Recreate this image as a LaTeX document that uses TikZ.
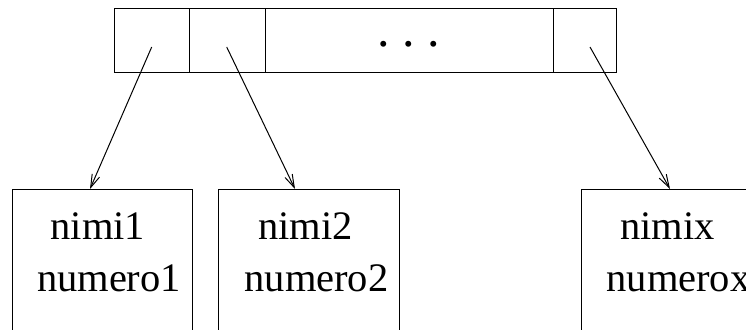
\documentclass[tikz,border=0pt]{standalone}
\usepackage{fontspec}
\setmainfont{Liberation Serif}
\usetikzlibrary{arrows.meta}
\begin{document}
\begin{tikzpicture}[x=1pt,y=-1pt,line width=1pt,
  cell/.style={draw,rectangle,inner sep=0pt,minimum height=64pt,anchor=north west},
  rec/.style={draw,rectangle,inner sep=0pt,minimum height=240pt,anchor=north west},
  lbl/.style={anchor=base west,inner sep=0pt,font=\fontsize{40.5}{44}\selectfont},
  ptr/.style={-{Straight Barb[length=13pt,width=8pt,line width=1pt]}}]
\useasboundingbox (0,0) rectangle (746,329);
\clip (0,0) rectangle (746,329);
% top array
\node[cell,minimum width=75.3pt] (c1) at (114,8) {};
\node[cell,minimum width=75.4pt] (c2) at (189.3,8) {};
\node[cell,minimum width=288pt] (c3) at (264.7,8) {};
\node[cell,minimum width=63pt] (c4) at (552.7,8) {};
\node[anchor=base,inner sep=0pt,font=\fontsize{50}{54}\selectfont] (dots) at (408.7,47) {.\hspace{12.5pt}.\hspace{12.5pt}.};
% records
\node[rec,minimum width=180.6pt] (r1) at (11.7,189) {};
\node[rec,minimum width=181pt] (r2) at (218.3,189) {};
\node[rec,minimum width=220pt] (r3) at (580.7,189) {};
\node[lbl] (n1) at (50,239) {nimi1};
\node[lbl] (m1) at (36.5,291.7) {numero1};
\node[lbl] (n2) at (257.5,239) {nimi2};
\node[lbl] (m2) at (244,291.7) {numero2};
\node[lbl] (n3) at (619.5,239) {nimix};
\node[lbl] (m3) at (606,291.7) {numerox};
% pointers
\coordinate (s1) at (151.7,47);
\coordinate (s2) at (226.7,47);
\coordinate (s3) at (590,47);
\coordinate (t1) at (90,189);
\coordinate (t2) at (295,189);
\coordinate (t3) at (670,189);
\draw[ptr] (s1) -- (t1);
\draw[ptr] (s2) -- (t2);
\draw[ptr] (s3) -- (t3);
\end{tikzpicture}
\end{document}
